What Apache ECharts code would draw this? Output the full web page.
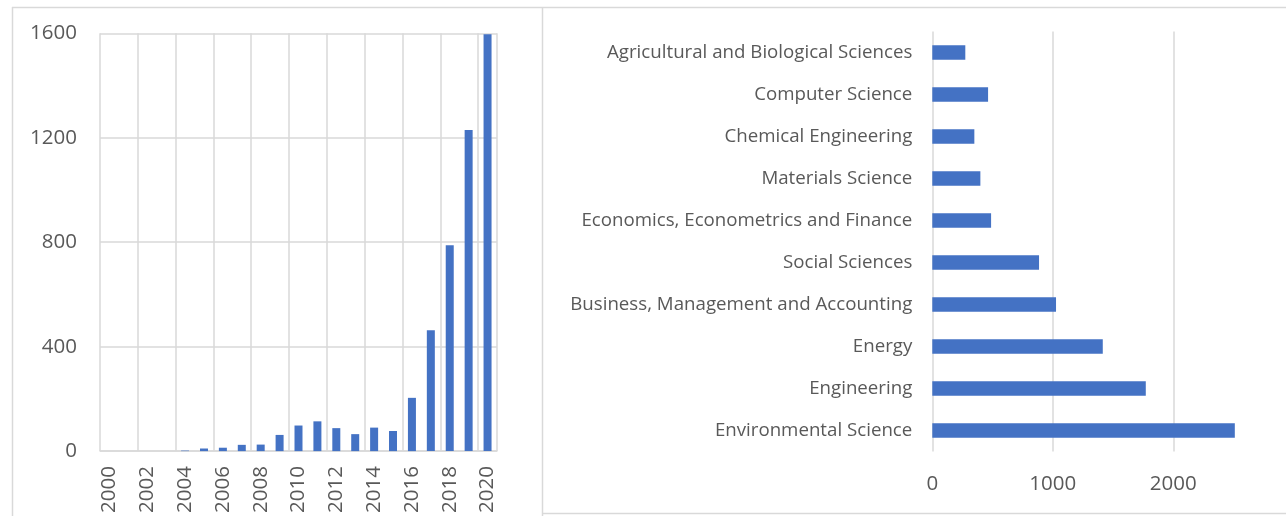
<!DOCTYPE html>
<html>
<head>
<meta charset="utf-8">
<script src="https://cdn.jsdelivr.net/npm/echarts@6/dist/echarts.min.js"></script>
<style>
  html, body { margin: 0; padding: 0; background: #fff; }
  #main { width: 1286px; height: 516px; }
</style>
</head>
<body>
<div id="main"></div>
<script>
const years = ['2000', '2001', '2002', '2003', '2004', '2005', '2006', '2007', '2008', '2009', '2010',
  '2011', '2012', '2013', '2014', '2015', '2016', '2017', '2018', '2019', '2020']
const yearCounts = [0, 0, 0, 0, 2, 10, 13, 24, 25, 62, 98, 114, 88, 65, 90, 77, 204, 463, 788, 1230, 1596]

const subjects = [
  'Agricultural and Biological Sciences',
  'Computer Science',
  'Chemical Engineering',
  'Materials Science',
  'Economics, Econometrics and Finance',
  'Social Sciences',
  'Business, Management and Accounting',
  'Energy',
  'Engineering',
  'Environmental Science'
]
const subjectCounts = [274, 463, 349, 399, 488, 886, 1027, 1415, 1772, 2511]

const BLUE = '#4472c4'
const GRID = '#d9d9d9'
const TEXT = '#595959'
const FONT = 'Open Sans'

const chart = echarts.init(document.getElementById('main'), null, { renderer: 'canvas' })

// frames of the two charts, the screenshot crops them on the right and bottom
const frameLine = (x1, y1, x2, y2) => ({
  type: 'line',
  shape: { x1, y1, x2, y2 },
  style: { stroke: GRID, lineWidth: 1.5 },
  silent: true
})

const plain = (v) => String(v)

chart.setOption({
  animation: false,
  textStyle: { fontFamily: FONT, color: TEXT },
  graphic: [
    frameLine(12, 7.5, 1286, 7.5),
    frameLine(12.5, 7, 12.5, 516),
    frameLine(542.5, 7, 542.5, 516),
    frameLine(542, 513.5, 1286, 513.5)
  ],
  grid: [
    { left: 100, top: 33.3, width: 397, height: 420 },
    // value axis runs past the picture edge, so stop it at the edge
    { left: 932.3, top: 31.5, width: 353, height: 420 }
  ],
  xAxis: [
    {
      type: 'category',
      gridIndex: 0,
      data: years,
      axisLine: { lineStyle: { color: GRID, width: 1.5 } },
      axisTick: { show: false },
      axisLabel: {
        interval: 1,
        rotate: 90,
        margin: 15,
        fontSize: 20.5,
        fontFamily: FONT,
        color: TEXT
      },
      splitLine: { show: true, interval: 1, lineStyle: { color: GRID, width: 1.5 } }
    },
    {
      type: 'value',
      gridIndex: 1,
      min: 0,
      max: 2930,
      interval: 1000,
      axisLine: { show: false },
      axisTick: { show: false },
      axisLabel: {
        margin: 22,
        fontSize: 20.5,
        fontFamily: FONT,
        color: TEXT,
        showMaxLabel: false,
        formatter: plain
      },
      splitLine: { show: true, showMaxLine: false, lineStyle: { color: GRID, width: 1.5 } }
    }
  ],
  yAxis: [
    {
      type: 'value',
      gridIndex: 0,
      min: 0,
      max: 1600,
      interval: 400,
      axisLine: { show: false },
      axisTick: { show: false },
      axisLabel: { margin: 23, fontSize: 20.5, fontFamily: FONT, color: TEXT, formatter: plain },
      splitLine: { show: true, lineStyle: { color: GRID, width: 1.5 } }
    },
    {
      type: 'category',
      gridIndex: 1,
      data: subjects,
      inverse: true,
      axisLine: { show: false },
      axisTick: { show: false },
      axisLabel: { margin: 20, fontSize: 18.7, fontFamily: FONT, color: TEXT },
      splitLine: { show: false }
    }
  ],
  series: [
    {
      type: 'bar',
      xAxisIndex: 0,
      yAxisIndex: 0,
      data: yearCounts,
      barWidth: 8,
      itemStyle: { color: BLUE }
    },
    {
      type: 'bar',
      xAxisIndex: 1,
      yAxisIndex: 1,
      data: subjectCounts,
      barWidth: 14.5,
      itemStyle: { color: BLUE }
    }
  ]
})
</script>
</body>
</html>
